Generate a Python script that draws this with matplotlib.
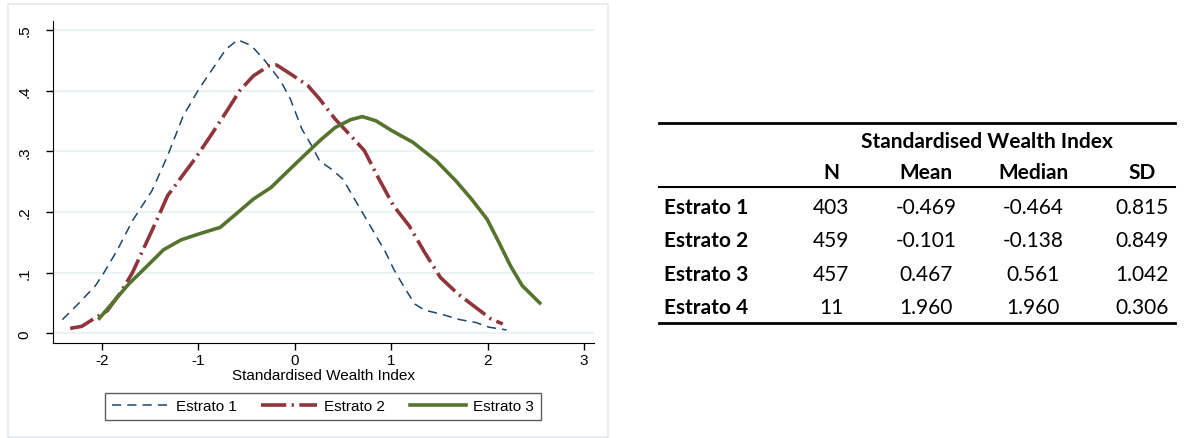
#!/usr/bin/env python3

import matplotlib
matplotlib.use("Agg")
import matplotlib.pyplot as plt
from matplotlib.lines import Line2D
from matplotlib.patches import Rectangle

# density curves
x1 = [-2.408, -2.246, -2.065, -1.984, -1.842, -1.681, -1.479, -1.317, -1.156, -0.994,
      -0.853, -0.712, -0.590, -0.449, -0.308, -0.146, -0.045, 0.076, 0.177, 0.258,
      0.379, 0.500, 0.621, 0.783, 0.944, 1.025, 1.146, 1.247, 1.348, 1.510,
      1.712, 1.873, 2.015, 2.196]
y1 = [0.0225, 0.048, 0.0785, 0.098, 0.136, 0.1855, 0.235, 0.2925, 0.358, 0.402,
      0.435, 0.468, 0.4835, 0.474, 0.449, 0.416, 0.386, 0.336, 0.309, 0.284,
      0.2705, 0.254, 0.221, 0.177, 0.133, 0.106, 0.073, 0.048, 0.038, 0.032,
      0.0225, 0.018, 0.010, 0.0055]

x2 = [-2.327, -2.206, -2.085, -1.943, -1.802, -1.681, -1.560, -1.439, -1.317, -1.176,
      -1.035, -0.873, -0.712, -0.570, -0.429, -0.267, -0.187, -0.025, 0.137, 0.258,
      0.419, 0.581, 0.722, 0.864, 1.025, 1.187, 1.348, 1.510, 1.691, 1.873,
      2.034, 2.156]
y2 = [0.008, 0.0115, 0.0236, 0.037, 0.0675, 0.100, 0.1416, 0.183, 0.2267, 0.257,
      0.287, 0.325, 0.364, 0.3996, 0.424, 0.4407, 0.442, 0.4254, 0.408, 0.386,
      0.353, 0.3255, 0.301, 0.257, 0.210, 0.177, 0.133, 0.092, 0.065, 0.043,
      0.0236, 0.0154]

x3 = [-2.024, -1.883, -1.721, -1.560, -1.358, -1.176, -0.994, -0.772, -0.590, -0.429,
      -0.247, -0.065, 0.096, 0.258, 0.419, 0.581, 0.702, 0.843, 1.005, 1.227,
      1.469, 1.671, 1.833, 1.994, 2.116, 2.237, 2.358, 2.540]
y3 = [0.0247, 0.051, 0.081, 0.106, 0.1378, 0.154, 0.1636, 0.1745, 0.199, 0.221,
      0.240, 0.268, 0.2925, 0.317, 0.339, 0.352, 0.357, 0.350, 0.334, 0.3145,
      0.284, 0.251, 0.221, 0.188, 0.150, 0.111, 0.0785, 0.050]

xticks = [-2, -1, 0, 1, 2, 3]
yticks = [0, 0.1, 0.2, 0.3, 0.4, 0.5]
ytick_labels = ["0", ".1", ".2", ".3", ".4", ".5"]

# summary table
row_names = ["Estrato 1", "Estrato 2", "Estrato 3", "Estrato 4"]
col_names = ["N", "Mean", "Median", "SD"]
n_obs = ["403", "459", "457", "11"]
means = ["-0.469", "-0.101", "0.467", "1.960"]
medians = ["-0.464", "-0.138", "0.561", "1.960"]
sds = ["0.815", "0.849", "1.042", "0.306"]

W, H = 1190, 439


def fx(px):
    return px / W


def fy(py):
    return 1 - py / H


def main():
    plt.rcParams['font.family'] = ['Liberation Sans', 'DejaVu Sans']
    fig = plt.figure(figsize=(W / 100, H / 100), dpi=100)

    # light frame round the graph region
    fig.patches.append(Rectangle((fx(8), fy(438)), fx(600), 433 / H,
                                 transform=fig.transFigure, fill=False,
                                 edgecolor="#e4ebed", lw=1.2))

    ax = fig.add_axes([fx(52.6), fy(344), fx(593.5 - 52.6), (344 - 21.7) / H])
    for v in yticks:
        ax.axhline(v, color="#e8f0f2", lw=1.2, zorder=0)
    ax.plot(x1, y1, color="#1a476f", lw=1.1, ls=(0, (6, 4)), label="Estrato 1")
    ax.plot(x2, y2, color="#90353b", lw=2.6, ls=(0, (7, 1.5, 0.6, 1.5)), label="Estrato 2")
    ax.plot(x3, y3, color="#55752f", lw=2.6, label="Estrato 3")

    ax.set_xlim(-2.509, 3.097)
    ax.set_ylim(-0.016, 0.515)
    ax.set_xticks(xticks)
    ax.set_xticklabels([str(t) for t in xticks])
    ax.set_yticks(yticks)
    ax.set_yticklabels(ytick_labels, rotation=90, va="center")
    ax.tick_params(axis="both", labelsize=11, length=5, width=1, direction="out")
    ax.tick_params(axis="y", pad=10)
    ax.tick_params(axis="x", pad=2)
    ax.spines["top"].set_visible(False)
    ax.spines["right"].set_visible(False)
    ax.set_xlabel("Standardised Wealth Index", fontsize=11, labelpad=1)

    leg = fig.legend(loc="center", bbox_to_anchor=(fx(323), fy(407.5)), ncol=3,
                     fontsize=11, handlelength=3.7, handletextpad=0.45,
                     columnspacing=1.6, frameon=True, fancybox=False, borderpad=0.45)
    leg.get_frame().set_edgecolor("#333333")
    leg.get_frame().set_linewidth(1.0)

    # table on the right
    tfont = ['Lato', 'DejaVu Sans']
    ts = 15
    fig.add_artist(Line2D([fx(659), fx(1175)], [fy(124), fy(124)], color="black", lw=2.0))
    fig.add_artist(Line2D([fx(659), fx(1175)], [fy(188), fy(188)], color="black", lw=1.5))
    fig.add_artist(Line2D([fx(659), fx(1175)], [fy(324), fy(324)], color="black", lw=2.0))
    fig.text(fx(987), fy(142), "Standardised Wealth Index", ha="center", va="center",
             fontsize=ts, fontweight="bold", family=tfont)
    col_x = [831, 926, 1033, 1142]
    for cx, name in zip(col_x, col_names):
        fig.text(fx(cx), fy(173), name, ha="center", va="center",
                 fontsize=ts, fontweight="bold", family=tfont)
    row_y = [208, 241, 275, 308]
    for i, ry in enumerate(row_y):
        fig.text(fx(664), fy(ry), row_names[i], ha="left", va="center",
                 fontsize=ts, fontweight="bold", family=tfont)
        for cx, val in zip(col_x, [n_obs[i], means[i], medians[i], sds[i]]):
            fig.text(fx(cx), fy(ry), val, ha="center", va="center",
                     fontsize=ts, family=tfont)

    fig.savefig("out.png", dpi=100)


if __name__ == "__main__":
    main()
